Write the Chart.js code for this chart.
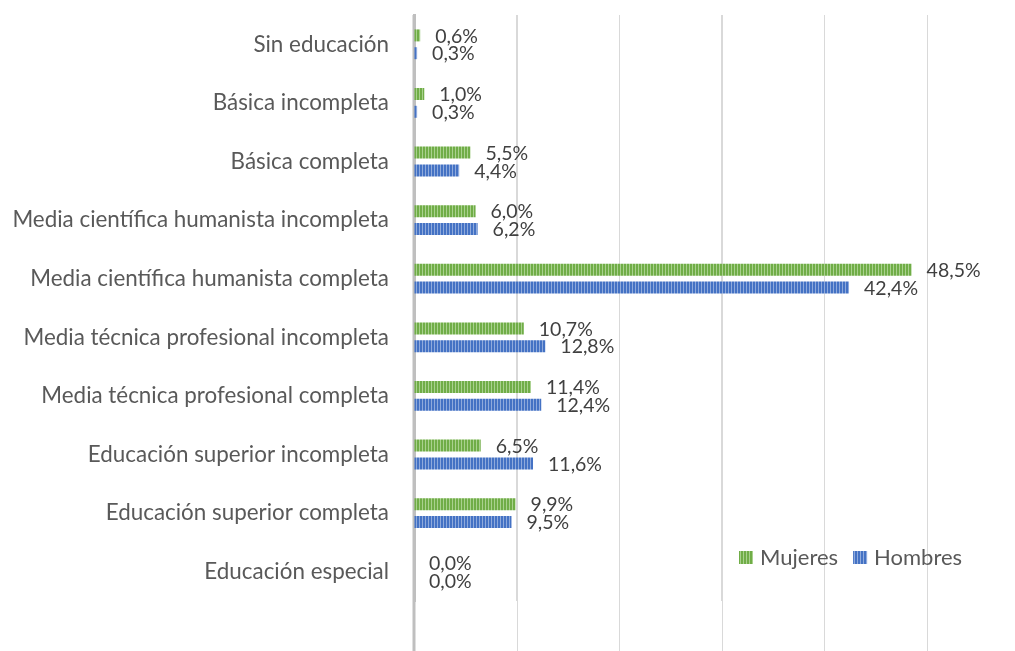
<!DOCTYPE html>
<html>
<head>
<meta charset="utf-8">
<script src="https://cdn.jsdelivr.net/npm/chart.js@4/dist/chart.umd.min.js"></script>
<style>
html,body{margin:0;padding:0;background:#fff;overflow:hidden;}
#wrap{position:relative;width:1015px;height:651px;}
</style>
</head>
<body>
<div id="wrap"><canvas id="c" width="1015" height="651"></canvas></div>
<script>
const categories = [
  'Sin educación',
  'Básica incompleta',
  'Básica completa',
  'Media científica humanista incompleta',
  'Media científica humanista completa',
  'Media técnica profesional incompleta',
  'Media técnica profesional completa',
  'Educación superior incompleta',
  'Educación superior completa',
  'Educación especial'
];
const mujeres = [0.6, 1.0, 5.5, 6.0, 48.5, 10.7, 11.4, 6.5, 9.9, 0.0];
const hombres = [0.3, 0.3, 4.4, 6.2, 42.4, 12.8, 12.4, 11.6, 9.5, 0.0];
const seriesNames = ['Mujeres', 'Hombres'];
const xTicks = [0, 10, 20, 30, 40, 50];

const FONT = 'Lato, "Open Sans", sans-serif';

function makePattern(base, stripe) {
  const p = document.createElement('canvas');
  p.width = 3; p.height = 4;
  const g = p.getContext('2d');
  g.fillStyle = base; g.fillRect(0, 0, 3, 4);
  g.fillStyle = stripe; g.fillRect(2, 0, 1, 4);
  return document.getElementById('c').getContext('2d').createPattern(p, 'repeat');
}
const greenPat = makePattern('#70AD47', '#A9D18E');
const bluePat = makePattern('#4472C4', '#8FAADC');

const fmt = v => v.toFixed(1).replace('.', ',') + '%';

const extendPlugin = {
  id: 'extendGrid',
  beforeDatasetsDraw(chart) {
    const ctx = chart.ctx, a = chart.chartArea, xs = chart.scales.x;
    ctx.save();
    ctx.strokeStyle = '#D9D9D9'; ctx.lineWidth = 1;
    xTicks.forEach(t => {
      if (t === 0) return;
      const x = Math.round(xs.getPixelForValue(t)) + 0.5;
      ctx.beginPath(); ctx.moveTo(x, a.top); ctx.lineTo(x, chart.height); ctx.stroke();
    });
    ctx.strokeStyle = '#BFBFBF'; ctx.lineWidth = 3;
    const x0 = xs.getPixelForValue(0);
    ctx.beginPath(); ctx.moveTo(x0, a.top); ctx.lineTo(x0, chart.height); ctx.stroke();
    ctx.restore();
  }
};

const labelPlugin = {
  id: 'valueLabels',
  afterDatasetsDraw(chart) {
    const ctx = chart.ctx;
    ctx.save();
    ctx.font = '19.5px ' + FONT;
    ctx.fillStyle = '#404040';
    ctx.textAlign = 'left';
    ctx.textBaseline = 'middle';
    chart.data.datasets.forEach((ds, di) => {
      chart.getDatasetMeta(di).data.forEach((bar, i) => {
        ctx.fillText(fmt(ds.data[i]), bar.x + 15, bar.y + 1);
      });
    });
    ctx.restore();
  }
};

const legendPlugin = {
  id: 'customLegend',
  afterDraw(chart) {
    const ctx = chart.ctx;
    ctx.save();
    ctx.font = '22px ' + FONT;
    ctx.textBaseline = 'middle';
    ctx.textAlign = 'left';
    let x = 739;
    const y = 551;
    chart.data.datasets.forEach((ds) => {
      ctx.fillStyle = ds.backgroundColor;
      ctx.fillRect(x, y, 14, 13);
      ctx.fillStyle = '#595959';
      ctx.fillText(ds.label, x + 21, y + 7);
      x += 21 + ctx.measureText(ds.label).width + 15;
    });
    ctx.restore();
  }
};

new Chart(document.getElementById('c'), {
  type: 'bar',
  data: {
    labels: categories,
    datasets: [
      { label: seriesNames[0], data: mujeres, backgroundColor: greenPat, borderWidth: 0,
        categoryPercentage: 0.607, barPercentage: 0.674 },
      { label: seriesNames[1], data: hombres, backgroundColor: bluePat, borderWidth: 0,
        categoryPercentage: 0.607, barPercentage: 0.674 }
    ]
  },
  options: {
    indexAxis: 'y',
    responsive: false,
    animation: false,
    layout: { padding: { left: 0, right: 88, top: 15, bottom: 50 } },
    plugins: { legend: { display: false }, tooltip: { enabled: false }, title: { display: false } },
    scales: {
      x: {
        min: 0, max: 50,
        afterBuildTicks: s => { s.ticks = xTicks.map(v => ({ value: v })); },
        afterFit: s => { s.height = 0; },
        ticks: { display: false },
        grid: { color: '#D9D9D9', lineWidth: 1, drawTicks: false },
        border: { display: false }
      },
      y: {
        afterFit: s => { s.width = 414; },
        ticks: { color: '#595959', font: { family: FONT, size: 22.4 }, padding: 0 },
        grid: { display: true, drawOnChartArea: false, drawTicks: true, tickLength: 25, tickColor: 'rgba(0,0,0,0)' },
        border: { display: true, color: '#BFBFBF', width: 3 }
      }
    }
  },
  plugins: [extendPlugin, labelPlugin, legendPlugin]
});
</script>
</body>
</html>
